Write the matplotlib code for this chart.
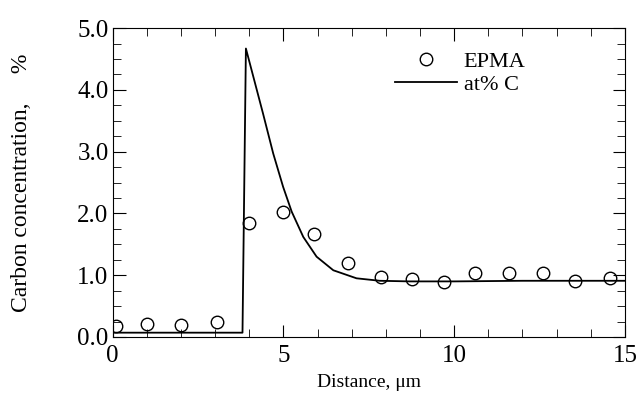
import numpy as np
import matplotlib
matplotlib.use('Agg')
import matplotlib.pyplot as plt
from matplotlib.ticker import MultipleLocator, FormatStrFormatter

# EPMA measurements
epma_x = [0.1, 1.0, 2.0, 3.05, 4.0, 5.0, 5.9, 6.9, 7.85, 8.77, 9.7, 10.6, 11.6, 12.6, 13.55, 14.55]
epma_y = [0.17, 0.21, 0.19, 0.24, 1.84, 2.02, 1.67, 1.2, 0.97, 0.94, 0.89, 1.03, 1.03, 1.03, 0.91, 0.95]

# calculated profile
calc_x = [0, 3.8, 3.9, 4.4, 4.7, 4.99, 5.24, 5.58, 5.97, 6.46, 7.14, 7.82, 8.7, 10.0, 12.0, 15.0]
calc_y = [0.07, 0.07, 4.67, 3.62, 2.97, 2.43, 2.03, 1.62, 1.3, 1.08, 0.95, 0.91, 0.9, 0.9, 0.91, 0.91]

plt.rcParams['font.family'] = ['Liberation Serif', 'DejaVu Serif']

fig = plt.figure(figsize=(6.37, 3.96), dpi=100)
ax = fig.add_axes([0.177, 0.149, 0.804, 0.78])

ax.plot(calc_x, calc_y, color='black', lw=1.3, label='at% C')
ax.plot(epma_x, epma_y, 'o', mfc='none', mec='black', ms=9, mew=1.0, label='EPMA')

ax.set_xlim(0, 15)
ax.set_ylim(0, 5)
ax.xaxis.set_major_locator(MultipleLocator(5))
ax.xaxis.set_minor_locator(MultipleLocator(1))
ax.yaxis.set_major_locator(MultipleLocator(1))
ax.yaxis.set_minor_locator(MultipleLocator(0.25))
ax.yaxis.set_major_formatter(FormatStrFormatter('%.1f'))
ax.tick_params(which='both', direction='in', top=True, right=True, labelsize=18)
ax.tick_params(which='major', length=9)
ax.tick_params(which='minor', length=6)
ax.tick_params(axis='x', pad=6)
ax.tick_params(axis='y', pad=3)

ax.set_xlabel('Distance, μm', fontsize=14)
ax.set_ylabel('Carbon concentration,     %', fontsize=17)
ax.xaxis.set_label_coords(0.5, -0.12)
ax.yaxis.set_label_coords(-0.158, 0.5)

handles, labels = ax.get_legend_handles_labels()
ax.legend(handles[::-1], labels[::-1], loc='upper right', bbox_to_anchor=(0.845, 0.99),
          frameon=False, fontsize=16, handlelength=2.8, handletextpad=0.3,
          labelspacing=0.1)

fig.savefig('out.png', dpi=100)
